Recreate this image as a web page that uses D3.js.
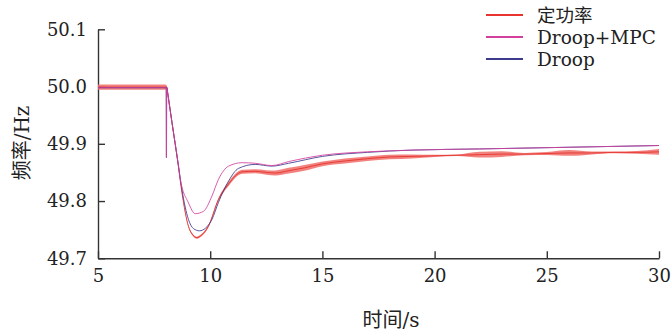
<!DOCTYPE html>
<html>
<head>
<meta charset="utf-8">
<script src="https://cdn.jsdelivr.net/npm/d3@7"></script>
<style>
    body { margin: 0; padding: 0; background: white; }
    .axis path, .axis line { stroke: #333; stroke-width: 1.4; }
</style>
</head>
<body>
<div id="chart"></div>
<script>
// 定功率 : centre of the oscillating band and its half width (Hz)
const tRed = [5, 8.0, 8.07, 8.1, 8.3, 8.57, 8.74, 9.03, 9.2, 9.41, 9.6, 9.92, 10.37, 10.82, 11.42, 12.0, 12.5, 12.9, 13.5, 14.2, 15.0, 16.0, 17.0, 18.0, 19.0, 20.0, 21.0, 22.0, 23.0, 24.0, 25.0, 26.0, 27.0, 28.0, 29.0, 30.0];
const redMid = [49.999, 49.999, 49.999, 49.991, 49.937, 49.864, 49.815, 49.756, 49.742, 49.736, 49.740, 49.756, 49.803, 49.830, 49.851, 49.852, 49.850, 49.849, 49.853, 49.858, 49.865, 49.870, 49.874, 49.877, 49.878, 49.879, 49.880, 49.881, 49.882, 49.882, 49.883, 49.884, 49.884, 49.885, 49.885, 49.886];
const redHalf = [0.0045, 0.0045, 0.002, 0.0012, 0.0012, 0.0012, 0.0012, 0.0015, 0.0017, 0.0018, 0.0018, 0.002, 0.0025, 0.0035, 0.0035, 0.0035, 0.004, 0.0045, 0.005, 0.005, 0.004, 0.0045, 0.004, 0.004, 0.0035, 0.002, 0.0015, 0.005, 0.005, 0.002, 0.0025, 0.005, 0.0025, 0.0015, 0.0025, 0.005];

// Droop+MPC
const tMpc = [5, 8.0, 8.04, 8.05, 8.06, 8.07, 8.1, 8.3, 8.57, 8.66, 9.03, 9.33, 9.7, 10.08, 10.37, 10.82, 11.42, 12.0, 12.75, 13.5, 15, 17, 19, 22, 26, 30];
const mpc = [49.998, 49.998, 49.998, 49.876, 49.998, 49.998, 49.990, 49.936, 49.866, 49.840, 49.797, 49.778, 49.782, 49.809, 49.838, 49.861, 49.867, 49.866, 49.862, 49.869, 49.880, 49.886, 49.889, 49.891, 49.894, 49.897];

// Droop
const tDroop = [5, 8.0, 8.04, 8.05, 8.06, 8.07, 8.1, 8.3, 8.57, 8.74, 9.03, 9.25, 9.52, 9.8, 10.08, 10.37, 10.82, 11.26, 12.0, 12.75, 13.5, 15, 17, 19, 22, 26, 30];
const droop = [49.998, 49.998, 49.998, 49.876, 49.998, 49.998, 49.990, 49.936, 49.866, 49.820, 49.768, 49.752, 49.748, 49.753, 49.768, 49.798, 49.835, 49.857, 49.864, 49.861, 49.866, 49.878, 49.885, 49.889, 49.891, 49.894, 49.897];

const xTicks = [5, 10, 15, 20, 25, 30];
const yTicks = [49.7, 49.8, 49.9, 50.0, 50.1];
const legendNames = ["定功率", "Droop+MPC", "Droop"];
const colors = ["#e8332f", "#d2409c", "#3d3a8c"];

const FONT = '"DejaVu Serif", "Noto Sans CJK SC"';

const W = 672, H = 333;
const svg = d3.select("#chart").append("svg").attr("width", W).attr("height", H);

const x = d3.scaleLinear().domain([5, 30]).range([98, 659]);
const y = d3.scaleLinear().domain([49.7, 50.1]).range([258.3, 29.3]);

// axes, ticks pointing inwards
svg.append("g")
    .attr("class", "axis")
    .attr("transform", `translate(0,${y(49.7)})`)
    .call(d3.axisBottom(x).tickValues(xTicks).tickSizeInner(-7).tickSizeOuter(0).tickPadding(11).tickFormat(d3.format("d")))
    .call(g => g.attr("font-family", FONT).attr("font-size", 18))
    .call(g => g.selectAll("text").attr("fill", "#222"));

svg.append("g")
    .attr("class", "axis")
    .attr("transform", `translate(${x(5)},0)`)
    .call(d3.axisLeft(y).tickValues(yTicks).tickSizeInner(-7).tickSizeOuter(0).tickPadding(11).tickFormat(d3.format(".1f")))
    .call(g => g.attr("font-family", FONT).attr("font-size", 18))
    .call(g => g.selectAll("text").attr("fill", "#222"));

// red band
const redData = tRed.map((t, i) => ({ t, m: redMid[i], h: redHalf[i] }));
svg.append("path")
    .datum(redData)
    .attr("fill", "#f07470")
    .attr("opacity", 0.9)
    .attr("d", d3.area().curve(d3.curveMonotoneX)
        .x(d => x(d.t)).y0(d => y(d.m - d.h)).y1(d => y(d.m + d.h)));
svg.append("path")
    .datum(redData)
    .attr("fill", "none")
    .attr("stroke", colors[0])
    .attr("stroke-width", 0.9)
    .attr("d", d3.line().curve(d3.curveMonotoneX).x(d => x(d.t)).y(d => y(d.m)));

const line = d3.line().curve(d3.curveMonotoneX).x(d => x(d[0])).y(d => y(d[1]));

svg.append("path")
    .datum(tDroop.map((t, i) => [t, droop[i]]))
    .attr("fill", "none")
    .attr("stroke", colors[2])
    .attr("stroke-opacity", 0.85)
    .attr("stroke-width", 1)
    .attr("d", line);

svg.append("path")
    .datum(tMpc.map((t, i) => [t, mpc[i]]))
    .attr("fill", "none")
    .attr("stroke", colors[1])
    .attr("stroke-opacity", 0.85)
    .attr("stroke-width", 1)
    .attr("d", line);

// legend
const legend = svg.append("g");
legendNames.forEach((name, i) => {
    const ly = 15 + i * 22;
    legend.append("line")
        .attr("x1", 486).attr("x2", 523)
        .attr("y1", ly).attr("y2", ly)
        .attr("stroke", colors[i]).attr("stroke-width", 2);
    legend.append("text")
        .attr("x", 537).attr("y", ly + 7)
        .attr("font-family", FONT)
        .attr("font-size", 18.5)
        .attr("fill", "#222")
        .text(name);
});

// axis titles
svg.append("text")
    .attr("x", 391).attr("y", 327)
    .attr("text-anchor", "middle")
    .attr("font-family", FONT)
    .attr("font-size", 20)
    .attr("fill", "#222")
    .text("时间/s");

svg.append("text")
    .attr("transform", "translate(29,143) rotate(-90)")
    .attr("text-anchor", "middle")
    .attr("font-family", FONT)
    .attr("font-size", 20)
    .attr("fill", "#222")
    .text("频率/Hz");
</script>
</body>
</html>
